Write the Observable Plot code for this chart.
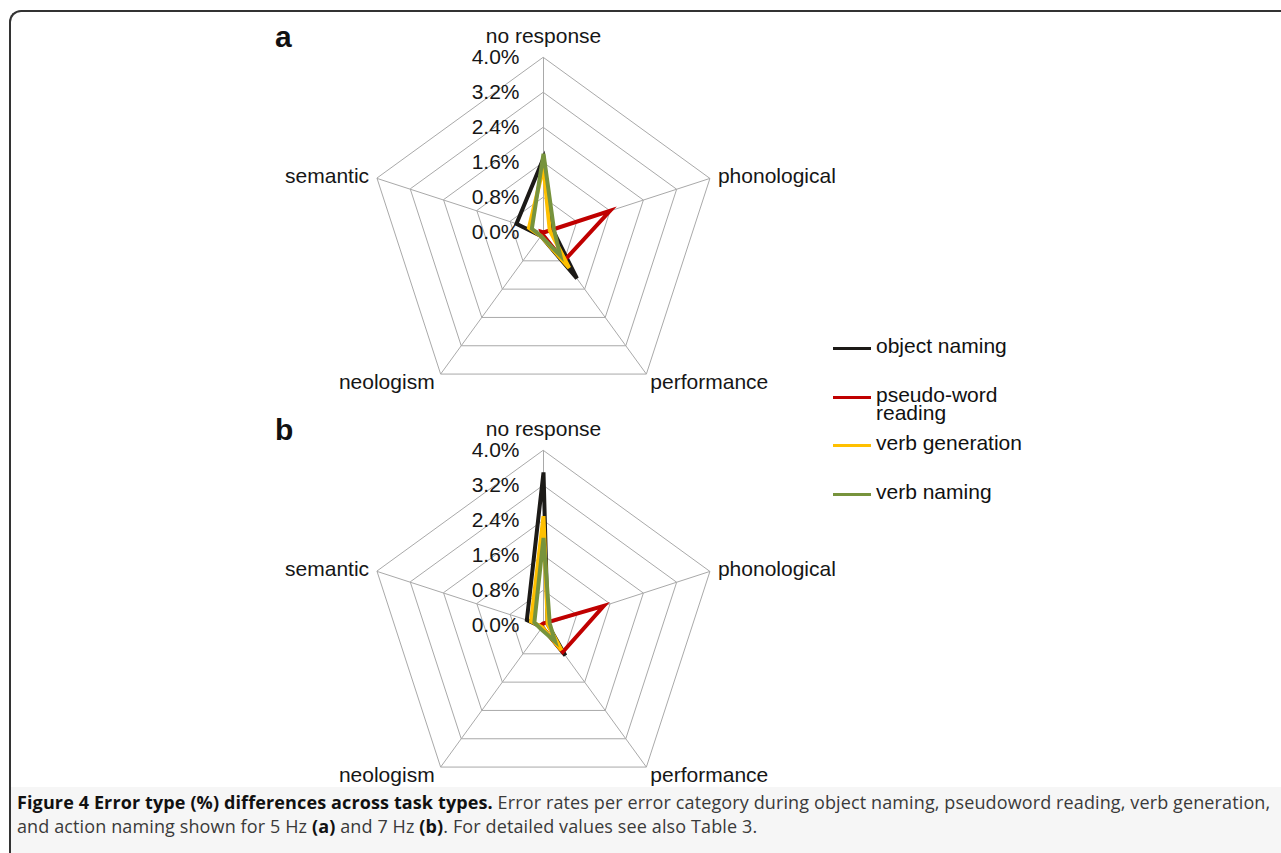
<!DOCTYPE html>
<html>
<head>
<meta charset="utf-8">
<script src="https://cdn.jsdelivr.net/npm/d3@7"></script>
<script src="https://cdn.jsdelivr.net/npm/@observablehq/plot@0.6"></script>
<style>
  html, body { margin: 0; padding: 0; background: #fff; }
  body { position: relative; width: 1281px; height: 853px; overflow: hidden; font-family: "Liberation Sans", Arial, sans-serif; }
  #frame { position: absolute; left: 9px; top: 10px; right: -10px; bottom: -10px; border-top: 2px solid #333; border-left: 2px solid #333; border-top-left-radius: 12px; }
  #capbg { position: absolute; left: 11px; top: 787px; right: 0; bottom: 0; background: #f6f6f6; }
  .panel { position: absolute; left: 0; }
  .plabel { position: absolute; left: 275px; font: bold 30px "Liberation Sans", Arial, sans-serif; color: #111; line-height: 30px; }
  #legend { position: absolute; left: 833px; top: 0; }
  .litem { position: absolute; left: 0; display: flex; align-items: flex-start; white-space: nowrap; }
  .lline { width: 38px; height: 3px; margin-top: 10px; flex: none; }
  .ltext { margin-left: 5px; font-size: 21px; line-height: 18px; color: #111; white-space: normal; width: 160px; }
  .capline { position: absolute; left: 17px; font: 18px "Open Sans", sans-serif; line-height: 24px; color: #3a3a3a; letter-spacing: 0.12px; white-space: nowrap; }
  .capline b { color: #111; }
</style>
</head>
<body>
<div id="capbg"></div>
<div id="frame"></div>
<div id="panels"></div>
<div id="legend"></div>
<div class="capline" style="top:790px"><b>Figure 4 Error type (%) differences across task types.</b><span> Error rates per error category during object naming, pseudoword reading, verb generation,</span></div>
<div class="capline" style="top:814px"><span>and action naming shown for 5 Hz </span><b>(a)</b><span> and 7 Hz </span><b>(b)</b><span>. For detailed values see also Table 3.</span></div>
<script>
// ---- data ----
const categories = ["no response", "phonological", "performance", "neologism", "semantic"];
const seriesNames = ["object naming", "pseudo-word reading", "verb generation", "verb naming"];
const seriesColors = ["#1c1a17", "#c00000", "#ffc000", "#77933c"];
const tickValues = [0.0, 0.8, 1.6, 2.4, 3.2, 4.0];
const panelLabels = ["a", "b"];

// panel a (5 Hz): values per category, in %
const a_objectNaming   = [1.70, 0.22, 1.30, 0.10, 0.65];
const a_pseudoWord     = [0.00, 1.60, 0.80, 0.05, 0.05];
const a_verbGeneration = [1.50, 0.15, 1.00, 0.10, 0.35];
const a_verbNaming     = [1.80, 0.25, 0.65, 0.10, 0.28];

// panel b (7 Hz)
const b_objectNaming   = [3.50, 0.10, 0.85, 0.05, 0.40];
const b_pseudoWord     = [0.05, 1.45, 0.75, 0.05, 0.05];
const b_verbGeneration = [2.50, 0.10, 0.70, 0.05, 0.30];
const b_verbNaming     = [2.00, 0.15, 0.45, 0.10, 0.22];

const panels = [
  [a_objectNaming, a_pseudoWord, a_verbGeneration, a_verbNaming],
  [b_objectNaming, b_pseudoWord, b_verbGeneration, b_verbNaming]
];

// ---- geometry ----
const W = 1281, H = 393;
const cx = 543, cy = 232, pxPerUnit = 43.75;
const rMax = d3.max(tickValues);
const ang = i => i * 2 * Math.PI / categories.length;
const px = (i, r) => r * Math.sin(ang(i));
const py = (i, r) => r * Math.cos(ang(i));

const labelPos = {
  "no response":  {anchor: "middle", dx: 0, dy: -21},
  "phonological": {anchor: "start", dx: 8, dy: -2},
  "performance":  {anchor: "start", dx: 4, dy: 8},
  "neologism":    {anchor: "end", dx: -6, dy: 8},
  "semantic":     {anchor: "end", dx: -8, dy: -2}
};

const panelsDiv = document.getElementById("panels");
const txt = "#161616";

panels.forEach((vals, p) => {
  const rows = seriesNames.flatMap((s, si) => vals[si].map((v, ci) => ({series: s, i: ci, v})));
  const ringData = tickValues.filter(t => t > 0).flatMap(t => categories.map((c, i) => ({t, i})));
  const spokes = categories.map((c, i) => ({c, i}));

  const marks = [
    Plot.line(ringData, {x: d => px(d.i, d.t), y: d => py(d.i, d.t), z: "t", curve: "linear-closed", stroke: "#a9a9a9", strokeWidth: 1}),
    Plot.link(spokes, {x1: 0, y1: 0, x2: d => px(d.i, rMax), y2: d => py(d.i, rMax), stroke: "#a9a9a9", strokeWidth: 1}),
    Plot.line(rows, {x: d => px(d.i, d.v), y: d => py(d.i, d.v), z: "series", stroke: "series", curve: "linear-closed", strokeWidth: 4, strokeLinejoin: "miter", strokeMiterlimit: 6}),
    Plot.text(tickValues, {x: 0, y: d => d, text: d => d.toFixed(1) + "%", textAnchor: "end", dx: -24, fill: txt, fontSize: 21})
  ];
  for (const c of categories) {
    const lp = labelPos[c];
    marks.push(Plot.text(spokes.filter(d => d.c === c), {x: d => px(d.i, rMax), y: d => py(d.i, rMax), text: "c", textAnchor: lp.anchor, dx: lp.dx, dy: lp.dy, fill: txt, fontSize: 21}));
  }

  const chart = Plot.plot({
    width: W, height: H,
    marginTop: 0, marginRight: 0, marginBottom: 0, marginLeft: 0,
    x: {domain: [-cx / pxPerUnit, (W - cx) / pxPerUnit], axis: null},
    y: {domain: [(cy - H) / pxPerUnit, cy / pxPerUnit], axis: null},
    color: {domain: seriesNames, range: seriesColors},
    style: {fontFamily: "Liberation Sans, Arial, sans-serif", fontSize: "21px", background: "transparent", overflow: "visible"},
    marks
  });
  const wrap = document.createElement("div");
  wrap.className = "panel";
  wrap.style.top = (p * H) + "px";
  wrap.appendChild(chart);
  panelsDiv.appendChild(wrap);

  const lab = document.createElement("div");
  lab.className = "plabel";
  lab.textContent = panelLabels[p];
  lab.style.top = (p * H + 22) + "px";
  document.body.appendChild(lab);
});

// legend
const legend = document.getElementById("legend");
seriesNames.forEach((s, i) => {
  const item = document.createElement("div");
  item.className = "litem";
  item.style.top = (337 + i * 48.7) + "px";
  const line = document.createElement("div");
  line.className = "lline";
  line.style.background = seriesColors[i];
  const t = document.createElement("div");
  t.className = "ltext";
  t.textContent = s;
  item.appendChild(line); item.appendChild(t);
  legend.appendChild(item);
});
</script>
</body>
</html>
